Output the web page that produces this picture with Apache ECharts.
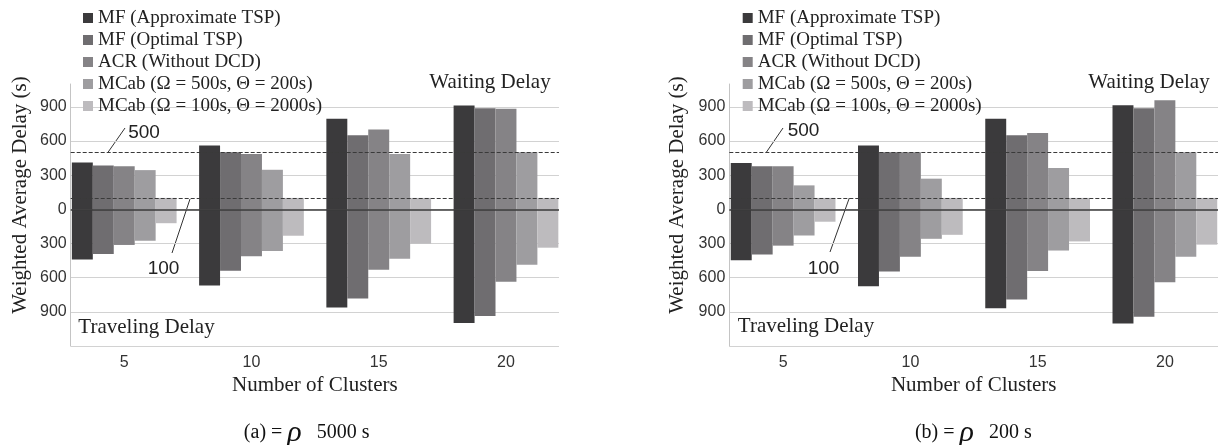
<!DOCTYPE html>
<html>
<head>
<meta charset="utf-8">
<script src="https://cdn.jsdelivr.net/npm/echarts@6/dist/echarts.min.js"></script>
<style>
html,body{margin:0;padding:0;background:#fff;}
#chart{width:1223px;height:445px;}
</style>
</head>
<body>
<div id="chart"></div>
<script>
// ---------- data ----------
const categories = ['5', '10', '15', '20'];
const methodNames = [
  'MF (Approximate TSP)',
  'MF (Optimal TSP)',
  'ACR (Without DCD)',
  'MCab (Ω = 500s, Θ = 200s)',
  'MCab (Ω = 100s, Θ = 2000s)'
];

// panel (a): rho = 5000 s  -- waiting delay (positive side)
const waitA_mfApprox = [411, 561, 794, 911];
const waitA_mfOptimal = [385, 500, 650, 888];
const waitA_acr = [379, 485, 700, 882];
const waitA_mcab500 = [344, 347, 485, 500];
const waitA_mcab100 = [100, 100, 100, 100];
// panel (a): traveling delay (negative side)
const travA_mfApprox = [-441, -668, -862, -998];
const travA_mfOptimal = [-392, -540, -783, -937];
const travA_acr = [-313, -412, -531, -635];
const travA_mcab500 = [-276, -366, -435, -487];
const travA_mcab100 = [-122, -232, -302, -337];

// panel (b): rho = 200 s  -- waiting delay
const waitB_mfApprox = [407, 560, 795, 913];
const waitB_mfOptimal = [378, 500, 649, 887];
const waitB_acr = [378, 500, 669, 958];
const waitB_mcab500 = [210, 269, 363, 500];
const waitB_mcab100 = [100, 100, 100, 100];
// panel (b): traveling delay
const travB_mfApprox = [-448, -676, -868, -1003];
const travB_mfOptimal = [-397, -546, -791, -943];
const travB_acr = [-319, -417, -541, -641];
const travB_mcab500 = [-230, -259, -362, -417];
const travB_mcab100 = [-109, -224, -282, -310];

const thresholdLines = [500, 100];

// ---------- styles ----------
const barColors = ['#3b3a3c', '#6f6d70', '#858386', '#9e9da0', '#bdbbbe'];
const SERIF = "'Liberation Serif', 'Times New Roman', serif";
const SANS = "'Liberation Sans', Arial, sans-serif";

const waitA = [waitA_mfApprox, waitA_mfOptimal, waitA_acr, waitA_mcab500, waitA_mcab100];
const travA = [travA_mfApprox, travA_mfOptimal, travA_acr, travA_mcab500, travA_mcab100];
const waitB = [waitB_mfApprox, waitB_mfOptimal, waitB_acr, waitB_mcab500, waitB_mcab100];
const travB = [travB_mfApprox, travB_mfOptimal, travB_acr, travB_mcab500, travB_mcab100];

function barSeries(waits, travs, axisIdx, panelKey) {
  const out = [];
  methodNames.forEach((name, i) => {
    [waits[i], travs[i]].forEach(arr => {
      out.push({
        type: 'bar',
        name: name,
        xAxisIndex: axisIdx,
        yAxisIndex: axisIdx,
        stack: panelKey + i,
        barGap: '0%',
        barCategoryGap: '17.7%',
        itemStyle: { color: barColors[i] },
        clip: false,
        data: arr
      });
    });
  });
  return out;
}

function refSeries(axisIdx) {
  const dash = { type: [4, 2], color: '#3a3a3a', width: 1 };
  return {
    type: 'line',
    xAxisIndex: axisIdx,
    yAxisIndex: axisIdx,
    data: [],
    z: 5,
    silent: true,
    markLine: {
      symbol: 'none',
      silent: true,
      label: { show: false },
      animation: false,
      data: thresholdLines.map(v => ({ yAxis: v, lineStyle: dash }))
        .concat([{ yAxis: 0, lineStyle: { type: 'solid', color: '#3a3a3a', width: 1.5 } }])
    }
  };
}

const Y_MIN = -1200, Y_MAX = 1100;
const gridTop = 84, gridH = 262;

function barXAxis(gi) {
  return {
    gridIndex: gi, type: 'category', data: categories,
    axisLine: { show: false }, axisTick: { show: false },
    axisLabel: { margin: 9, fontSize: 16, fontFamily: SANS, color: '#333' }
  };
}
function hiddenXAxis(gi) {
  return { gridIndex: gi, type: 'category', data: categories, show: false };
}
function hiddenYAxis(gi) {
  return { gridIndex: gi, type: 'value', min: Y_MIN, max: Y_MAX, show: false };
}
function shownYAxis(gi) {
  return {
    gridIndex: gi, type: 'value', min: Y_MIN, max: Y_MAX, interval: 300,
    axisLine: { show: true, lineStyle: { color: '#c4c4c4', width: 1 } },
    axisTick: { show: false },
    axisLabel: {
      margin: 4, fontSize: 16, fontFamily: SANS, color: '#333',
      showMinLabel: false, showMaxLabel: false,
      formatter: v => String(Math.abs(v))
    },
    splitLine: { show: true, showMaxLine: false, lineStyle: { color: '#d2d2d2', width: 1 } }
  };
}

function legendAt(left) {
  return {
    orient: 'vertical', left: left, top: 8.5, padding: 0,
    itemWidth: 10, itemHeight: 10, itemGap: 3, itemTextGap: 4,
    icon: 'rect', selectedMode: false,
    textStyle: { fontFamily: SERIF, fontSize: 19, color: '#222', lineHeight: 17 },
    data: methodNames
  };
}

function txt(x, y, text, size, extra) {
  return Object.assign({
    type: 'text', x: x, y: y, silent: true,
    style: {
      text: text, fill: '#222', font: size + 'px ' + SERIF,
      textAlign: 'center', textVerticalAlign: 'middle', verticalAlign: 'middle'
    }
  }, extra || {});
}
function lead(x1, y1, x2, y2) {
  return { type: 'line', silent: true, shape: { x1, y1, x2, y2 }, style: { stroke: '#333', lineWidth: 1 } };
}
function num(x, y, text) {
  return {
    type: 'text', x: x, y: y, silent: true,
    style: { text: text, fill: '#222', font: '19px ' + SANS, textAlign: 'center', textVerticalAlign: 'middle', verticalAlign: 'middle' }
  };
}
function caption(x, y, label, value) {
  return {
    type: 'text', x: x, y: y, silent: true,
    style: {
      text: '{a|' + label + ' = }{r|ρ}{a|   ' + value + '}',
      textAlign: 'center', textVerticalAlign: 'middle', verticalAlign: 'middle',
      rich: {
        a: { fontFamily: SERIF, fontSize: 20, fill: '#111', color: '#111' },
        r: { fontFamily: SERIF, fontSize: 30, fontStyle: 'italic', fill: '#111', color: '#111' }
      }
    }
  };
}

const option = {
  animation: false,
  backgroundColor: '#ffffff',
  grid: [
    { left: 60.6, top: gridTop, width: 509, height: gridH, outerBoundsMode: 'none' },
    { left: 70.7, top: gridTop, width: 488.3, height: gridH, outerBoundsMode: 'none' },
    { left: 719.5, top: gridTop, width: 509, height: gridH, outerBoundsMode: 'none' },
    { left: 729.3, top: gridTop, width: 488.7, height: gridH, outerBoundsMode: 'none' }
  ],
  xAxis: [barXAxis(0), hiddenXAxis(1), barXAxis(2), hiddenXAxis(3)],
  yAxis: [hiddenYAxis(0), shownYAxis(1), hiddenYAxis(2), shownYAxis(3)],
  legend: [legendAt(83), legendAt(742.7)],
  series: []
    .concat(barSeries(waitA, travA, 0, 'a'))
    .concat(barSeries(waitB, travB, 2, 'b'))
    .concat([refSeries(1), refSeries(3)]),
  graphic: [
    // panel (a)
    txt(20, 195, 'Weighted Average Delay (s)', 21, { rotation: Math.PI / 2 }),
    txt(314.8, 385, 'Number of Clusters', 21),
    txt(490, 82, 'Waiting Delay', 21),
    txt(146.5, 327, 'Traveling Delay', 21),
    num(144, 133, '500'), lead(107.5, 153, 125, 128),
    num(163.5, 269, '100'), lead(190, 199, 172, 253),
    caption(306.7, 433, '(a)', '5000 s'),
    // panel (b)
    txt(677, 195, 'Weighted Average Delay (s)', 21, { rotation: Math.PI / 2 }),
    txt(973.7, 385, 'Number of Clusters', 21),
    txt(1149, 82, 'Waiting Delay', 21),
    txt(806, 326, 'Traveling Delay', 21),
    num(803.5, 131, '500'), lead(766.5, 152, 783, 128),
    num(823.5, 269, '100'), lead(849.3, 198, 830, 252)
    ,caption(973.3, 433, '(b)', '200 s')
  ]
};

const chart = echarts.init(document.getElementById('chart'), null, { renderer: 'canvas' });
chart.setOption(option);
</script>
</body>
</html>
